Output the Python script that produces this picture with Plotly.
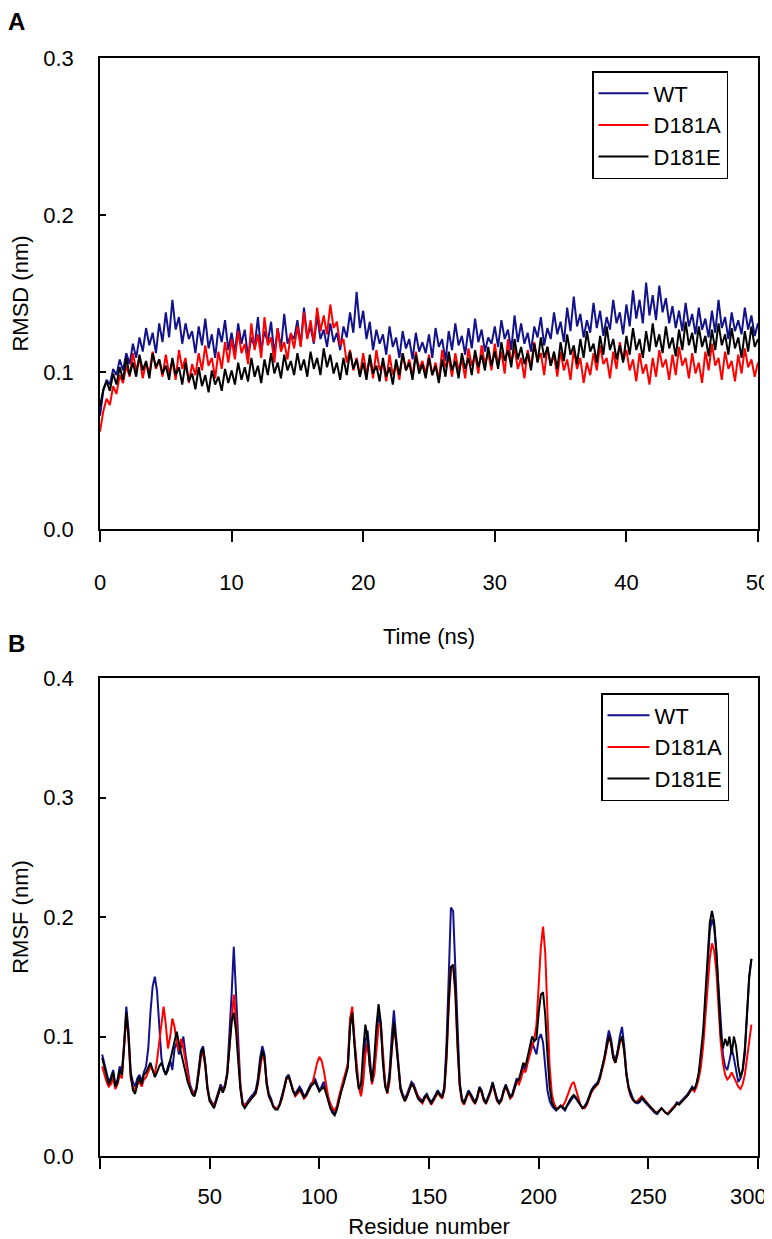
import plotly.graph_objects as go

# ---- panel A: RMSD vs time (sampled every 0.25 ns) ----
time_ns = [i * 0.25 for i in range(201)]

rmsd_wt = [
    0.072, 0.088, 0.095, 0.092, 0.102, 0.098, 0.108, 0.101, 0.112, 0.105, 0.118, 0.109, 0.122, 0.113, 0.128, 0.117, 0.125, 0.112, 0.131, 0.119,
    0.138, 0.122, 0.146, 0.127, 0.135, 0.118, 0.131, 0.121, 0.126, 0.112, 0.129, 0.117, 0.134, 0.115, 0.124, 0.109, 0.128, 0.119, 0.133, 0.114,
    0.125, 0.112, 0.131, 0.118, 0.127, 0.109, 0.122, 0.116, 0.135, 0.113, 0.126, 0.119, 0.132, 0.111, 0.128, 0.115, 0.137, 0.118, 0.124, 0.121,
    0.133, 0.117, 0.141, 0.122, 0.129, 0.118, 0.136, 0.121, 0.127, 0.116, 0.131, 0.119, 0.125, 0.114, 0.129, 0.122, 0.138, 0.125, 0.151, 0.128,
    0.139, 0.121, 0.132, 0.114, 0.127, 0.118, 0.124, 0.111, 0.129, 0.116, 0.122, 0.109, 0.126, 0.115, 0.121, 0.108, 0.125, 0.113, 0.119, 0.112,
    0.124, 0.109, 0.128, 0.116, 0.121, 0.107, 0.126, 0.114, 0.131, 0.117, 0.123, 0.111, 0.128, 0.115, 0.134, 0.119, 0.127, 0.113, 0.122, 0.118,
    0.129, 0.116, 0.133, 0.121, 0.127, 0.114, 0.136, 0.119, 0.131, 0.118, 0.125, 0.113, 0.129, 0.122, 0.135, 0.117, 0.128, 0.121, 0.138, 0.124,
    0.132, 0.119, 0.141, 0.126, 0.148, 0.129, 0.137, 0.122, 0.133, 0.125, 0.144, 0.128, 0.139, 0.123, 0.135, 0.127, 0.146, 0.131, 0.138, 0.124,
    0.143, 0.129, 0.152, 0.134, 0.146, 0.131, 0.157, 0.136, 0.149, 0.133, 0.155, 0.138, 0.147, 0.131, 0.142, 0.128, 0.139, 0.126, 0.144, 0.129,
    0.137, 0.124, 0.141, 0.127, 0.134, 0.122, 0.139, 0.125, 0.146, 0.128, 0.135, 0.121, 0.138, 0.126, 0.133, 0.124, 0.141, 0.127, 0.136, 0.123,
    0.131,
]

rmsd_d181a = [
    0.062, 0.075, 0.083, 0.079, 0.091, 0.086, 0.098, 0.093, 0.104, 0.097, 0.112, 0.101, 0.109, 0.096, 0.106, 0.099, 0.113, 0.102, 0.108, 0.097,
    0.111, 0.099, 0.107, 0.095, 0.114, 0.102, 0.109, 0.093, 0.105, 0.098, 0.112, 0.101, 0.117, 0.104, 0.109, 0.096, 0.113, 0.102, 0.119, 0.106,
    0.121, 0.108, 0.126, 0.112, 0.118, 0.105, 0.131, 0.114, 0.124, 0.109, 0.135, 0.117, 0.122, 0.106, 0.128, 0.113, 0.119, 0.108, 0.125, 0.115,
    0.129, 0.116, 0.138, 0.121, 0.133, 0.119, 0.141, 0.126, 0.136, 0.124, 0.143, 0.128, 0.132, 0.117, 0.121, 0.106, 0.114, 0.101, 0.109, 0.098,
    0.112, 0.099, 0.108, 0.096, 0.114, 0.101, 0.106, 0.094, 0.111, 0.098, 0.105, 0.095, 0.112, 0.101, 0.108, 0.097, 0.113, 0.102, 0.107, 0.099,
    0.111, 0.098, 0.106, 0.095, 0.114, 0.103, 0.109, 0.097, 0.112, 0.101, 0.108, 0.096, 0.115, 0.104, 0.111, 0.099, 0.117, 0.105, 0.112, 0.101,
    0.118, 0.104, 0.113, 0.099, 0.121, 0.106, 0.115, 0.102, 0.109, 0.096, 0.114, 0.103, 0.119, 0.107, 0.112, 0.098, 0.116, 0.104, 0.111, 0.097,
    0.113, 0.101, 0.108, 0.095, 0.114, 0.102, 0.109, 0.093, 0.106, 0.098, 0.112, 0.101, 0.117, 0.105, 0.109, 0.096, 0.113, 0.102, 0.119, 0.107,
    0.114, 0.101, 0.108, 0.094, 0.112, 0.099, 0.105, 0.092, 0.109, 0.097, 0.114, 0.103, 0.108, 0.095, 0.111, 0.098, 0.116, 0.104, 0.109, 0.096,
    0.112, 0.099, 0.106, 0.093, 0.113, 0.101, 0.118, 0.104, 0.109, 0.095, 0.113, 0.102, 0.107, 0.094, 0.111, 0.099, 0.115, 0.103, 0.108, 0.097,
    0.106,
]

rmsd_d181e = [
    0.078, 0.089, 0.094, 0.088, 0.099, 0.092, 0.103, 0.095, 0.109, 0.098, 0.106, 0.097, 0.111, 0.101, 0.107, 0.096, 0.112, 0.103, 0.108, 0.099,
    0.104, 0.095, 0.109, 0.098, 0.103, 0.092, 0.106, 0.094, 0.099, 0.089, 0.103, 0.091, 0.098, 0.087, 0.101, 0.092, 0.097, 0.088, 0.102, 0.093,
    0.101, 0.092, 0.106, 0.095, 0.103, 0.094, 0.109, 0.097, 0.104, 0.093, 0.108, 0.098, 0.112, 0.099, 0.106, 0.096, 0.111, 0.101, 0.107, 0.098,
    0.112, 0.101, 0.108, 0.097, 0.113, 0.102, 0.109, 0.098, 0.115, 0.103, 0.111, 0.099, 0.106, 0.095, 0.109, 0.098, 0.113, 0.102, 0.108, 0.097,
    0.106, 0.095, 0.111, 0.099, 0.104, 0.094, 0.109, 0.097, 0.103, 0.092, 0.108, 0.098, 0.112, 0.101, 0.106, 0.095, 0.111, 0.099, 0.105, 0.096,
    0.109, 0.098, 0.104, 0.093, 0.108, 0.097, 0.113, 0.101, 0.107, 0.096, 0.112, 0.102, 0.109, 0.098, 0.114, 0.103, 0.111, 0.101, 0.116, 0.104,
    0.113, 0.102, 0.119, 0.107, 0.114, 0.103, 0.121, 0.108, 0.116, 0.105, 0.112, 0.101, 0.118, 0.106, 0.122, 0.109, 0.116, 0.104, 0.113, 0.102,
    0.119, 0.107, 0.124, 0.111, 0.117, 0.105, 0.121, 0.109, 0.126, 0.113, 0.118, 0.106, 0.123, 0.111, 0.129, 0.114, 0.121, 0.108, 0.117, 0.106,
    0.123, 0.111, 0.128, 0.114, 0.121, 0.109, 0.126, 0.113, 0.131, 0.116, 0.124, 0.112, 0.129, 0.115, 0.122, 0.110, 0.127, 0.114, 0.132, 0.117,
    0.125, 0.112, 0.129, 0.116, 0.123, 0.110, 0.127, 0.114, 0.131, 0.117, 0.124, 0.111, 0.128, 0.115, 0.122, 0.109, 0.126, 0.113, 0.129, 0.116,
    0.121,
]

# ---- panel B: RMSF per residue ----
residues = list(range(1, 298))

rmsf_wt = [
    0.085, 0.078, 0.070, 0.062, 0.066, 0.072, 0.060, 0.064, 0.075, 0.070,
    0.095, 0.125, 0.105, 0.070, 0.062, 0.058, 0.065, 0.068, 0.062, 0.070,
    0.075, 0.090, 0.120, 0.142, 0.150, 0.138, 0.110, 0.082, 0.072, 0.068,
    0.075, 0.080, 0.072, 0.090, 0.095, 0.085, 0.092, 0.100, 0.085, 0.070,
    0.060, 0.055, 0.052, 0.058, 0.072, 0.088, 0.092, 0.078, 0.058, 0.048,
    0.045, 0.042, 0.048, 0.055, 0.060, 0.055, 0.060, 0.070, 0.100, 0.135,
    0.175, 0.140, 0.095, 0.060, 0.045, 0.042, 0.045, 0.048, 0.050, 0.052,
    0.055, 0.065, 0.082, 0.092, 0.085, 0.062, 0.052, 0.048, 0.042, 0.040,
    0.040, 0.044, 0.050, 0.058, 0.066, 0.068, 0.062, 0.055, 0.052, 0.055,
    0.058, 0.055, 0.050, 0.052, 0.056, 0.060, 0.062, 0.065, 0.060, 0.055,
    0.058, 0.062, 0.056, 0.048, 0.042, 0.038, 0.035, 0.040, 0.048, 0.055,
    0.062, 0.068, 0.075, 0.110, 0.120, 0.095, 0.072, 0.058, 0.052, 0.065,
    0.095, 0.105, 0.080, 0.062, 0.070, 0.100, 0.118, 0.110, 0.080, 0.060,
    0.055, 0.070, 0.100, 0.122, 0.100, 0.075, 0.058, 0.052, 0.048, 0.052,
    0.058, 0.062, 0.060, 0.055, 0.050, 0.048, 0.046, 0.050, 0.052, 0.048,
    0.045, 0.048, 0.052, 0.055, 0.052, 0.050, 0.058, 0.095, 0.150, 0.208,
    0.205, 0.160, 0.100, 0.062, 0.048, 0.045, 0.050, 0.055, 0.052, 0.048,
    0.045, 0.050, 0.058, 0.055, 0.048, 0.045, 0.050, 0.055, 0.062, 0.055,
    0.048, 0.045, 0.048, 0.055, 0.060, 0.055, 0.050, 0.052, 0.058, 0.065,
    0.062, 0.068, 0.075, 0.072, 0.080, 0.088, 0.095, 0.090, 0.085, 0.098,
    0.102, 0.095, 0.075, 0.055, 0.046, 0.042, 0.040, 0.038, 0.040, 0.042,
    0.040, 0.038, 0.042, 0.045, 0.048, 0.050, 0.048, 0.045, 0.042, 0.040,
    0.042, 0.045, 0.050, 0.055, 0.058, 0.060, 0.062, 0.068, 0.075, 0.082,
    0.095, 0.105, 0.098, 0.085, 0.080, 0.088, 0.100, 0.108, 0.092, 0.070,
    0.058, 0.052, 0.048, 0.045, 0.044, 0.045, 0.048, 0.046, 0.044, 0.042,
    0.040, 0.038, 0.036, 0.035, 0.038, 0.040, 0.038, 0.036, 0.035, 0.038,
    0.040, 0.042, 0.045, 0.044, 0.046, 0.048, 0.050, 0.052, 0.055, 0.058,
    0.055, 0.060, 0.068, 0.080, 0.098, 0.125, 0.160, 0.188, 0.198, 0.192,
    0.170, 0.140, 0.105, 0.085, 0.075, 0.072, 0.080, 0.090, 0.082, 0.070,
    0.062, 0.065, 0.072, 0.085, 0.115, 0.150, 0.165,
]

rmsf_d181a = [
    0.075, 0.068, 0.062, 0.058, 0.060, 0.065, 0.056, 0.060, 0.068, 0.065,
    0.088, 0.118, 0.098, 0.065, 0.058, 0.055, 0.060, 0.062, 0.058, 0.064,
    0.066, 0.070, 0.075, 0.072, 0.068, 0.080, 0.095, 0.112, 0.125, 0.110,
    0.090, 0.100, 0.115, 0.108, 0.095, 0.088, 0.098, 0.090, 0.078, 0.068,
    0.058, 0.054, 0.050, 0.056, 0.068, 0.082, 0.088, 0.075, 0.056, 0.046,
    0.044, 0.042, 0.046, 0.052, 0.058, 0.054, 0.058, 0.068, 0.090, 0.115,
    0.135, 0.115, 0.085, 0.058, 0.044, 0.042, 0.044, 0.046, 0.048, 0.050,
    0.052, 0.060, 0.075, 0.085, 0.080, 0.060, 0.050, 0.046, 0.042, 0.040,
    0.040, 0.043, 0.048, 0.056, 0.064, 0.066, 0.060, 0.054, 0.050, 0.052,
    0.055, 0.052, 0.048, 0.050, 0.054, 0.058, 0.062, 0.070, 0.078, 0.083,
    0.080, 0.072, 0.060, 0.050, 0.044, 0.040, 0.038, 0.042, 0.050, 0.058,
    0.064, 0.070, 0.078, 0.115, 0.125, 0.098, 0.074, 0.058, 0.050, 0.062,
    0.085, 0.095, 0.075, 0.060, 0.068, 0.092, 0.108, 0.112, 0.088, 0.062,
    0.052, 0.062, 0.088, 0.110, 0.095, 0.072, 0.056, 0.050, 0.046, 0.050,
    0.055, 0.060, 0.058, 0.054, 0.049, 0.046, 0.044, 0.048, 0.050, 0.046,
    0.043, 0.046, 0.050, 0.053, 0.050, 0.048, 0.055, 0.080, 0.125, 0.158,
    0.160, 0.135, 0.090, 0.058, 0.046, 0.043, 0.048, 0.053, 0.050, 0.046,
    0.044, 0.048, 0.056, 0.053, 0.046, 0.044, 0.048, 0.053, 0.060, 0.053,
    0.046, 0.044, 0.046, 0.053, 0.058, 0.053, 0.048, 0.050, 0.056, 0.062,
    0.060, 0.065, 0.072, 0.070, 0.078, 0.085, 0.092, 0.098, 0.110, 0.140,
    0.175, 0.192, 0.170, 0.120, 0.075, 0.052, 0.044, 0.040, 0.040, 0.042,
    0.042, 0.045, 0.050, 0.056, 0.060, 0.062, 0.055, 0.048, 0.043, 0.040,
    0.040, 0.043, 0.048, 0.053, 0.056, 0.058, 0.060, 0.065, 0.072, 0.080,
    0.090, 0.100, 0.094, 0.082, 0.078, 0.085, 0.095, 0.098, 0.088, 0.068,
    0.056, 0.050, 0.047, 0.045, 0.046, 0.048, 0.050, 0.048, 0.045, 0.043,
    0.041, 0.039, 0.037, 0.036, 0.038, 0.040, 0.038, 0.036, 0.036, 0.038,
    0.040, 0.042, 0.044, 0.043, 0.045, 0.047, 0.049, 0.051, 0.054, 0.056,
    0.054, 0.058, 0.065, 0.075, 0.092, 0.115, 0.145, 0.165, 0.178, 0.172,
    0.155, 0.125, 0.095, 0.078, 0.068, 0.064, 0.066, 0.070, 0.066, 0.062,
    0.058, 0.056, 0.060, 0.068, 0.082, 0.098, 0.110,
]

rmsf_d181e = [
    0.082, 0.075, 0.068, 0.060, 0.064, 0.070, 0.058, 0.062, 0.072, 0.068,
    0.092, 0.120, 0.100, 0.068, 0.055, 0.052, 0.060, 0.066, 0.060, 0.068,
    0.070, 0.074, 0.078, 0.072, 0.066, 0.070, 0.075, 0.078, 0.072, 0.068,
    0.072, 0.080, 0.088, 0.098, 0.104, 0.094, 0.085, 0.078, 0.070, 0.062,
    0.056, 0.052, 0.050, 0.056, 0.070, 0.086, 0.090, 0.076, 0.056, 0.046,
    0.043, 0.040, 0.046, 0.053, 0.058, 0.053, 0.058, 0.068, 0.090, 0.112,
    0.120, 0.105, 0.080, 0.056, 0.043, 0.040, 0.043, 0.046, 0.048, 0.050,
    0.053, 0.062, 0.078, 0.088, 0.082, 0.060, 0.050, 0.046, 0.041, 0.039,
    0.039, 0.043, 0.049, 0.057, 0.065, 0.067, 0.061, 0.054, 0.051, 0.054,
    0.056, 0.053, 0.049, 0.051, 0.055, 0.058, 0.060, 0.062, 0.058, 0.054,
    0.056, 0.058, 0.053, 0.046, 0.040, 0.036, 0.034, 0.039, 0.047, 0.054,
    0.060, 0.066, 0.074, 0.108, 0.120, 0.094, 0.070, 0.056, 0.060, 0.088,
    0.110, 0.098, 0.075, 0.062, 0.080, 0.108, 0.127, 0.112, 0.078, 0.058,
    0.053, 0.066, 0.092, 0.112, 0.095, 0.072, 0.056, 0.050, 0.046, 0.050,
    0.056, 0.060, 0.058, 0.053, 0.048, 0.046, 0.045, 0.049, 0.051, 0.047,
    0.044, 0.047, 0.051, 0.054, 0.051, 0.049, 0.056, 0.085, 0.130, 0.158,
    0.160, 0.140, 0.095, 0.060, 0.047, 0.044, 0.049, 0.054, 0.051, 0.047,
    0.044, 0.049, 0.057, 0.054, 0.047, 0.044, 0.049, 0.054, 0.061, 0.054,
    0.047, 0.044, 0.047, 0.054, 0.059, 0.054, 0.049, 0.051, 0.057, 0.063,
    0.064, 0.070, 0.078, 0.075, 0.084, 0.092, 0.100, 0.096, 0.098, 0.120,
    0.135, 0.137, 0.118, 0.085, 0.058, 0.045, 0.041, 0.039, 0.040, 0.042,
    0.041, 0.039, 0.043, 0.046, 0.049, 0.051, 0.049, 0.046, 0.042, 0.040,
    0.041, 0.044, 0.049, 0.054, 0.057, 0.059, 0.061, 0.066, 0.074, 0.082,
    0.092, 0.100, 0.095, 0.082, 0.078, 0.086, 0.096, 0.100, 0.088, 0.068,
    0.057, 0.051, 0.047, 0.045, 0.045, 0.046, 0.049, 0.047, 0.045, 0.043,
    0.041, 0.039, 0.037, 0.036, 0.038, 0.040, 0.038, 0.036, 0.035, 0.037,
    0.039, 0.041, 0.044, 0.043, 0.045, 0.047, 0.049, 0.051, 0.054, 0.057,
    0.056, 0.061, 0.070, 0.085, 0.105, 0.135, 0.170, 0.195, 0.205, 0.196,
    0.172, 0.138, 0.102, 0.090, 0.098, 0.092, 0.100, 0.085, 0.100, 0.092,
    0.075, 0.066, 0.072, 0.090, 0.120, 0.150, 0.165,
]

names = ["WT", "D181A", "D181E"]
colors = ["#12128c", "#ff0000", "#000000"]

residue_ticks = [0, 50, 100, 150, 200, 250, 300]

FONT = "Arial, Liberation Sans, sans-serif"
# the page body adds an 8px margin, so the figure is sized/offset to land on the window
OFF = 8
W, H = 768, 1231
ML, MR, MT, MB = 92, 18, 50, 83


def py(sy):
    # window pixel row -> paper y
    return (H - MB - (sy - OFF)) / (H - MT - MB)


def px_x(sx):
    # window pixel column -> paper x
    return (sx - OFF - ML) / (W - ML - MR)


fig = go.Figure()

for name, color, ys in zip(names, colors, [rmsd_wt, rmsd_d181a, rmsd_d181e]):
    fig.add_trace(go.Scatter(x=time_ns, y=ys, mode="lines", name=name,
                             line=dict(color=color, width=2),
                             xaxis="x", yaxis="y", legend="legend"))

for name, color, ys in zip(names, colors, [rmsf_wt, rmsf_d181a, rmsf_d181e]):
    fig.add_trace(go.Scatter(x=residues, y=ys, mode="lines", name=name,
                             line=dict(color=color, width=2),
                             xaxis="x2", yaxis="y2", legend="legend2"))

axis_common = dict(showline=True, linecolor="black", linewidth=1.5, mirror=True,
                   showgrid=False, zeroline=False, tickcolor="black", tickwidth=1.5,
                   tickfont=dict(family=FONT, size=22, color="black"),
                   title_font=dict(family=FONT, size=22, color="black"),
                   automargin=False, ticklabeloverflow="allow")

legend_common = dict(bgcolor="white", bordercolor="black", borderwidth=1.5,
                     font=dict(family=FONT, size=22, color="black"),
                     xanchor="left", yanchor="top", tracegroupgap=0)

# the last residue label sits against the window edge, so it is right-aligned there
residue_labels = [str(v) if 0 < v < 300 else "" for v in residue_ticks]

fig.update_layout(
    width=W, height=H,
    margin=dict(l=ML, r=MR, t=MT, b=MB),
    paper_bgcolor="white", plot_bgcolor="white",
    xaxis=dict(domain=[0, 1], anchor="y", range=[0, 50], tickvals=[0, 10, 20, 30, 40, 50],
               ticks="outside", ticklen=11, ticklabelstandoff=22,
               title=dict(text="Time (ns)", standoff=34), **axis_common),
    yaxis=dict(domain=[py(529), 1], anchor="x", range=[0, 0.3], tickvals=[0, 0.1, 0.2, 0.3],
               tickformat=".1f", ticks="inside", ticklen=6, ticklabelstandoff=20,
               title=dict(text="RMSD (nm)", standoff=14), **axis_common),
    xaxis2=dict(domain=[0, 1], anchor="y2", range=[0, 300], tickvals=residue_ticks,
                ticktext=residue_labels,
                ticks="outside", ticklen=11, ticklabelstandoff=9,
                title=dict(text="Residue number", standoff=10), **axis_common),
    yaxis2=dict(domain=[0, py(678)], anchor="x2", range=[0, 0.4], tickvals=[0, 0.1, 0.2, 0.3, 0.4],
                tickformat=".1f", ticks="inside", ticklen=6, ticklabelstandoff=20,
                title=dict(text="RMSF (nm)", standoff=14), **axis_common),
    legend=dict(x=px_x(592), y=py(71), itemwidth=50, **legend_common),
    legend2=dict(x=px_x(601), y=py(693), itemwidth=42, **legend_common),
    showlegend=True,
    annotations=[
        dict(text="<b>A</b>", x=px_x(16), y=py(21), xref="paper", yref="paper",
             xanchor="center", yanchor="middle", showarrow=False,
             font=dict(family=FONT, size=24, color="black")),
        dict(text="<b>B</b>", x=px_x(16), y=py(643), xref="paper", yref="paper",
             xanchor="center", yanchor="middle", showarrow=False,
             font=dict(family=FONT, size=24, color="black")),
        dict(text=str(residue_ticks[-1]), x=residue_ticks[-1], y=0, xref="x2", yref="y2",
             xanchor="right", yanchor="middle", xshift=11, yshift=-40, showarrow=False,
             font=dict(family=FONT, size=22, color="black")),
    ],
)

fig.write_html("out.html")
